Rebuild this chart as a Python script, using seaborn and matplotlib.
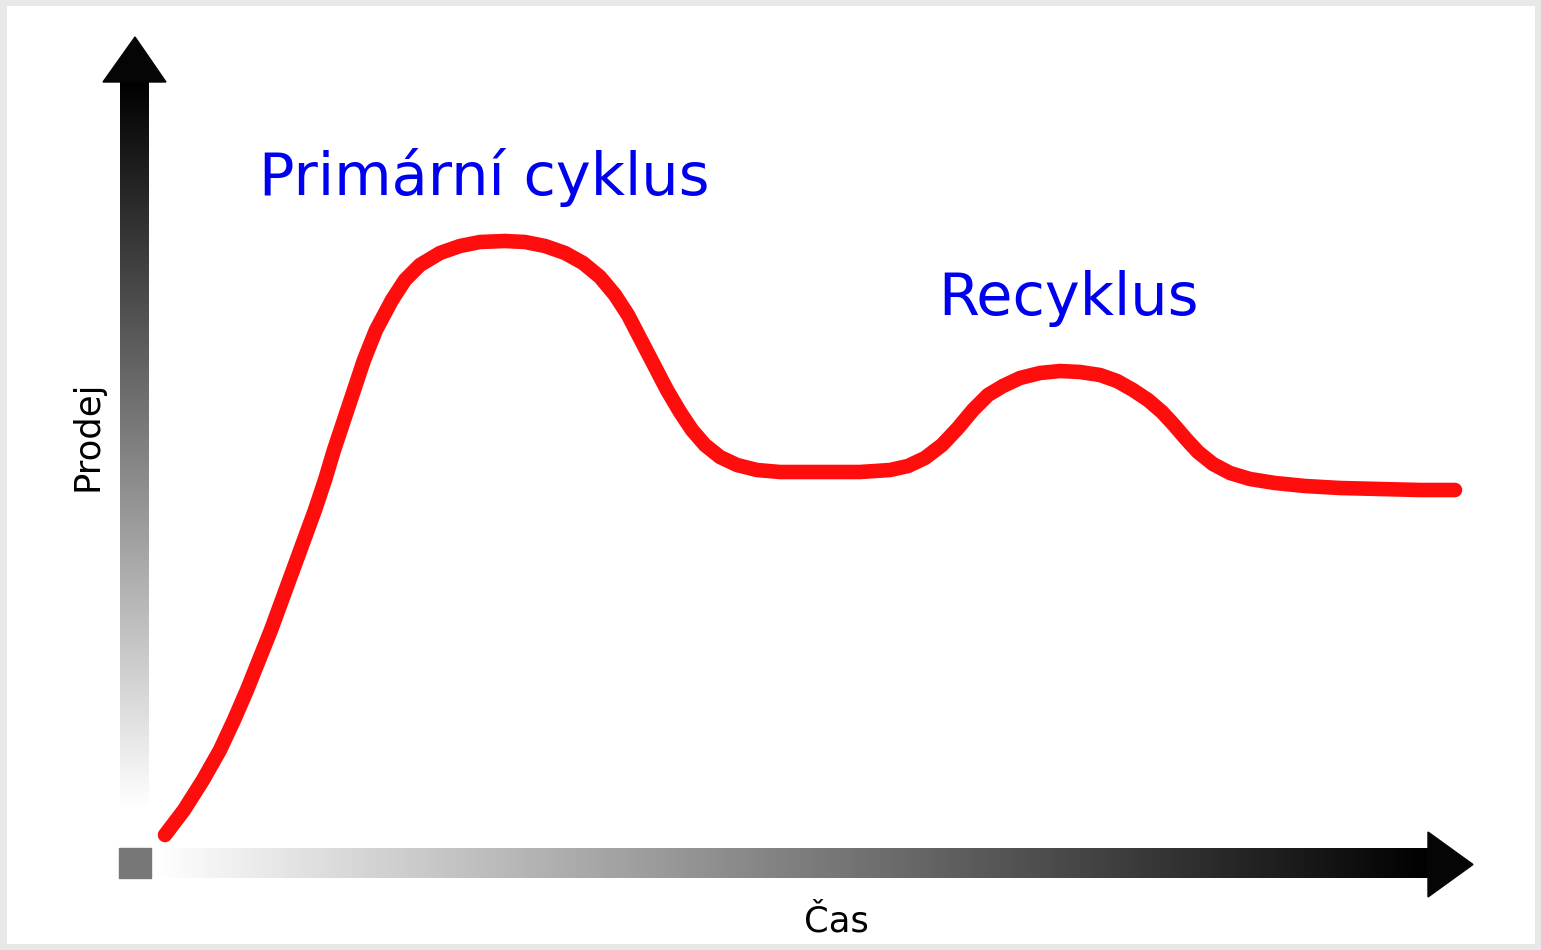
import numpy as np
import matplotlib
matplotlib.use("Agg")
import matplotlib.pyplot as plt
from matplotlib.patches import Polygon, Rectangle
import seaborn as sns
import pandas as pd

# curve (time vs. sales, arbitrary units)
time = [0.15, 0.34, 0.53, 0.70, 0.84, 0.97, 1.09, 1.21, 1.32, 1.43,
        1.54, 1.65, 1.75, 1.84, 1.94, 2.04, 2.14, 2.26, 2.42, 2.55,
        2.70, 2.90, 3.10, 3.30, 3.55, 3.75, 3.95, 4.15, 4.33, 4.50,
        4.65, 4.78, 4.91, 5.04, 5.17, 5.30, 5.42, 5.55, 5.70, 5.87,
        6.07, 6.30, 6.70, 7.10, 7.40, 7.58, 7.75, 7.92, 8.08, 8.23,
        8.38, 8.53, 8.70, 8.90, 9.10, 9.30, 9.50, 9.67, 9.83, 9.98,
        10.12, 10.24, 10.36, 10.48, 10.63, 10.80, 11.00, 11.25, 11.55, 11.90,
        12.30, 12.70, 13.05]
sales = [0.13, 0.38, 0.68, 0.98, 1.28, 1.58, 1.88, 2.18, 2.48, 2.78,
         3.08, 3.38, 3.68, 3.98, 4.28, 4.58, 4.88, 5.18, 5.48, 5.68,
         5.83, 5.95, 6.02, 6.06, 6.07, 6.06, 6.02, 5.95, 5.85, 5.71,
         5.53, 5.33, 5.08, 4.83, 4.58, 4.36, 4.18, 4.03, 3.91, 3.83,
         3.78, 3.76, 3.76, 3.76, 3.78, 3.82, 3.90, 4.03, 4.20, 4.38,
         4.53, 4.62, 4.70, 4.75, 4.77, 4.76, 4.73, 4.67, 4.58, 4.48,
         4.36, 4.23, 4.09, 3.96, 3.84, 3.75, 3.69, 3.65, 3.62, 3.60,
         3.59, 3.58, 3.58]

labels = ["Primární cyklus", "Recyklus"]
axis_labels = ["Čas", "Prodej"]

sns.set_style("white")
plt.rcParams['font.family'] = ['DejaVu Sans']

fig = plt.figure(figsize=(15.41, 9.5), dpi=100, facecolor='#e8e8e8')
ax = fig.add_axes([7 / 1541, 6 / 950, 1528 / 1541, 938 / 950])
ax.set_facecolor('white')

# gradient axes
grad = np.linspace(0, 1, 256)
ax.imshow(grad.reshape(-1, 1), cmap='gray', vmin=0, vmax=1, aspect='auto',
          origin='upper', extent=(-0.30, -0.01, 0.40, 7.67), zorder=1)
ax.imshow(grad[::-1].reshape(1, -1), cmap='gray', vmin=0, vmax=1, aspect='auto',
          extent=(0.02, 12.79, -0.30, 0.0), zorder=1)
ax.add_patch(Polygon([(-0.47, 7.66), (0.16, 7.66), (-0.15, 8.11)],
                     closed=True, color='#050505', zorder=2))
ax.add_patch(Polygon([(12.78, 0.16), (12.78, -0.49), (13.23, -0.165)],
                     closed=True, color='#050505', zorder=2))
ax.add_patch(Rectangle((-0.31, -0.30), 0.32, 0.30, color='#777777', zorder=2))

df = pd.DataFrame({'time': time, 'sales': sales})
sns.lineplot(data=df, x='time', y='sales', sort=False, estimator=None,
             color='#ff0d0d', linewidth=10.5, solid_capstyle='round',
             solid_joinstyle='round', ax=ax, zorder=3)

ax.text(1.09, 6.53, labels[0], color='#0000f0', fontsize=42.5,
        ha='left', va='baseline')
ax.text(7.88, 5.33, labels[1], color='#0000f0', fontsize=42.5,
        ha='left', va='baseline')
ax.text(6.86, -0.84, axis_labels[0], color='black', fontsize=25.5,
        ha='center', va='baseline')
ax.text(-0.62, 4.12, axis_labels[1], color='black', fontsize=25.5,
        rotation=90, ha='center', va='center')

ax.set_xlim(-1.43, 13.85)
ax.set_ylim(-0.96, 8.42)
ax.axis('off')
ax.add_patch(Rectangle((0, 0), 1, 1, transform=ax.transAxes, color='white',
                       zorder=0))

fig.savefig('out.png', dpi=100, facecolor=fig.get_facecolor())
